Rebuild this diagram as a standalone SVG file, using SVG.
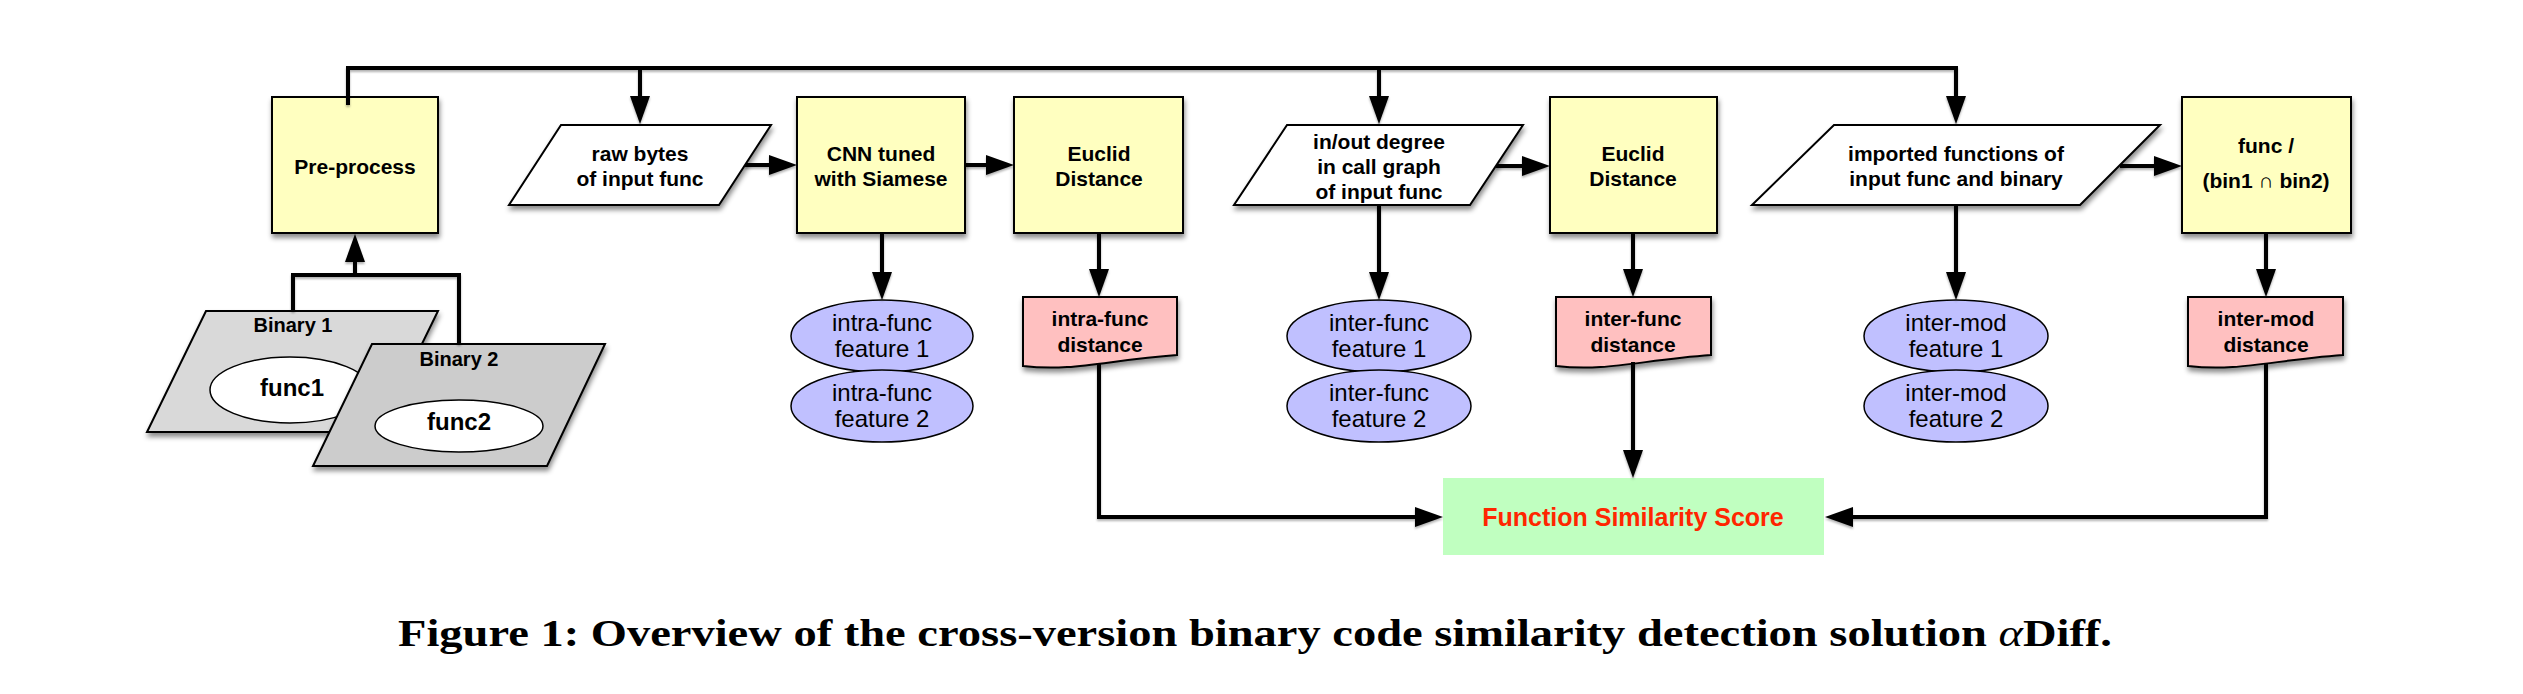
<svg xmlns="http://www.w3.org/2000/svg" width="2523" height="694" viewBox="0 0 2523 694">
<defs>
<filter id="sh" x="-10%" y="-10%" width="125%" height="130%">
<feDropShadow dx="1" dy="4" stdDeviation="2.5" flood-color="#000" flood-opacity="0.45"/>
</filter>
<filter id="lsh" x="-5%" y="-5%" width="110%" height="110%">
<feDropShadow dx="0" dy="2" stdDeviation="1" flood-color="#000" flood-opacity="0.3"/>
</filter>
<marker id="ah" markerUnits="userSpaceOnUse" markerWidth="28" markerHeight="20" viewBox="0 0 28 20" refX="8" refY="10" orient="auto">
<path d="M0,0 L28,10 L0,20 z" fill="#000"/>
</marker>
</defs>
<style>
.box{fill:#ffffc0;stroke:#000;stroke-width:2;filter:url(#sh)}
.io{fill:#fff;stroke:#000;stroke-width:2;filter:url(#sh)}
.feat{fill:#c0c0ff;stroke:#000;stroke-width:1.5}
.doc{fill:#ffc0c0;stroke:#000;stroke-width:2;filter:url(#sh)}
.bin1{fill:#d9d9d9;stroke:#000;stroke-width:2;filter:url(#sh)}
.bin2{fill:#cccccc;stroke:#000;stroke-width:2;filter:url(#sh)}
.fn{fill:#fff;stroke:#000;stroke-width:1.5}
.b{font-family:"Liberation Sans",Arial,sans-serif;font-weight:bold;font-size:21px;text-anchor:middle;fill:#000}
.r{font-family:"Liberation Sans",Arial,sans-serif;font-size:24px;text-anchor:middle;fill:#000}
.conn path{fill:none;stroke:#000;stroke-width:4;stroke-linejoin:miter}
.arr{marker-end:url(#ah)}
.cap{font-family:"Liberation Serif","Times New Roman",serif;font-weight:bold;font-size:37px;fill:#000}
</style>
<rect width="2523" height="694" fill="#fff"/>

<g id="binary1">
<polygon class="bin1" points="206,311 438,311 379,432 147,432"/>
<text class="b" x="293" y="332" style="font-size:20px">Binary 1</text>
<ellipse class="fn" cx="290" cy="390" rx="80" ry="33"/>
<text class="b" x="292" y="396" style="font-size:24px">func1</text>
</g>
<g id="binary2">
<polygon class="bin2" points="372,344 605,344 547,466 313,466"/>
<text class="b" x="459" y="366" style="font-size:20px">Binary 2</text>
<ellipse class="fn" cx="459" cy="426" rx="84" ry="26"/>
<text class="b" x="459" y="430" style="font-size:24px">func2</text>
</g>

<g id="preprocess">
<rect class="box" x="272" y="97" width="166" height="136"/>
<text class="b" x="355" y="174">Pre-process</text>
</g>

<g id="rawbytes">
<polygon class="io" points="561,125 771,125 719,205 509,205"/>
<text class="b" x="640" y="161">raw bytes</text>
<text class="b" x="640" y="186">of input func</text>
</g>

<g id="cnn">
<rect class="box" x="797" y="97" width="168" height="136"/>
<text class="b" x="881" y="161">CNN tuned</text>
<text class="b" x="881" y="186">with Siamese</text>
</g>

<g id="euclid1">
<rect class="box" x="1014" y="97" width="169" height="136"/>
<text class="b" x="1099" y="161">Euclid</text>
<text class="b" x="1099" y="186">Distance</text>
</g>

<g id="intra-feat">
<ellipse class="feat" cx="882" cy="336" rx="91" ry="36"/>
<text class="r" x="882" y="331">intra-func</text>
<text class="r" x="882" y="357">feature 1</text>
<ellipse class="feat" cx="882" cy="406" rx="91" ry="36"/>
<text class="r" x="882" y="401">intra-func</text>
<text class="r" x="882" y="427">feature 2</text>
</g>

<g id="intra-dist">
<path class="doc" d="M1023,297 H1177 V355 C1107,360 1073,372 1023,366 Z"/>
<text class="b" x="1100" y="326">intra-func</text>
<text class="b" x="1100" y="352">distance</text>
</g>

<g id="inout">
<polygon class="io" points="1287,125 1523,125 1470,205 1234,205"/>
<text class="b" x="1379" y="149">in/out degree</text>
<text class="b" x="1379" y="174">in call graph</text>
<text class="b" x="1379" y="199">of input func</text>
</g>

<g id="euclid2">
<rect class="box" x="1550" y="97" width="167" height="136"/>
<text class="b" x="1633" y="161">Euclid</text>
<text class="b" x="1633" y="186">Distance</text>
</g>

<g id="inter-feat">
<ellipse class="feat" cx="1379" cy="336" rx="92" ry="36"/>
<text class="r" x="1379" y="331">inter-func</text>
<text class="r" x="1379" y="357">feature 1</text>
<ellipse class="feat" cx="1379" cy="406" rx="92" ry="36"/>
<text class="r" x="1379" y="401">inter-func</text>
<text class="r" x="1379" y="427">feature 2</text>
</g>

<g id="inter-dist">
<path class="doc" d="M1556,297 H1711 V355 C1641,360 1606,372 1556,366 Z"/>
<text class="b" x="1633" y="326">inter-func</text>
<text class="b" x="1633" y="352">distance</text>
</g>

<g id="imported">
<polygon class="io" points="1834,125 2160,125 2080,205 1752,205"/>
<text class="b" x="1956" y="161">imported functions of</text>
<text class="b" x="1956" y="186">input func and binary</text>
</g>

<g id="funcbin">
<rect class="box" x="2182" y="97" width="169" height="136"/>
<text class="b" x="2266" y="153">func /</text>
<text class="b" x="2266" y="188">(bin1 ∩ bin2)</text>
</g>

<g id="intermod-feat">
<ellipse class="feat" cx="1956" cy="336" rx="92" ry="36"/>
<text class="r" x="1956" y="331">inter-mod</text>
<text class="r" x="1956" y="357">feature 1</text>
<ellipse class="feat" cx="1956" cy="406" rx="92" ry="36"/>
<text class="r" x="1956" y="401">inter-mod</text>
<text class="r" x="1956" y="427">feature 2</text>
</g>

<g id="intermod-dist">
<path class="doc" d="M2188,297 H2343 V355 C2273,360 2238,372 2188,366 Z"/>
<text class="b" x="2266" y="326">inter-mod</text>
<text class="b" x="2266" y="352">distance</text>
</g>

<g id="score">
<rect x="1443" y="478" width="381" height="77" fill="#c0ffc0"/>
<text class="b" x="1633" y="526" style="font-size:25px;fill:#ff2600">Function Similarity Score</text>
</g>

<g id="connectors" class="conn" filter="url(#lsh)">
<path class="arr" d="M348,105 V68 H1956 V104"/>
<path class="arr" d="M640,68 V104"/>
<path class="arr" d="M1379,68 V104"/>
<path class="arr" d="M745,165 H777"/>
<path class="arr" d="M965,165 H994"/>
<path class="arr" d="M1496,166 H1530"/>
<path class="arr" d="M2120,166 H2162"/>
<path class="arr" d="M882,233 V280"/>
<path class="arr" d="M1099,233 V277"/>
<path class="arr" d="M1379,205 V280"/>
<path class="arr" d="M1633,233 V277"/>
<path class="arr" d="M1956,205 V280"/>
<path class="arr" d="M2266,233 V277"/>
<path d="M293,311 V275 H459 V344"/>
<path class="arr" d="M355,275 V254"/>
<path class="arr" d="M1099,364 V517 H1423"/>
<path class="arr" d="M1633,362 V458"/>
<path class="arr" d="M2266,364 V517 H1845"/>
</g>

<text class="cap" x="398" y="646" textLength="1714" lengthAdjust="spacingAndGlyphs">Figure 1: Overview of the cross-version binary code similarity detection solution <tspan font-style="italic" font-weight="normal">α</tspan>Diff.</text>
</svg>
